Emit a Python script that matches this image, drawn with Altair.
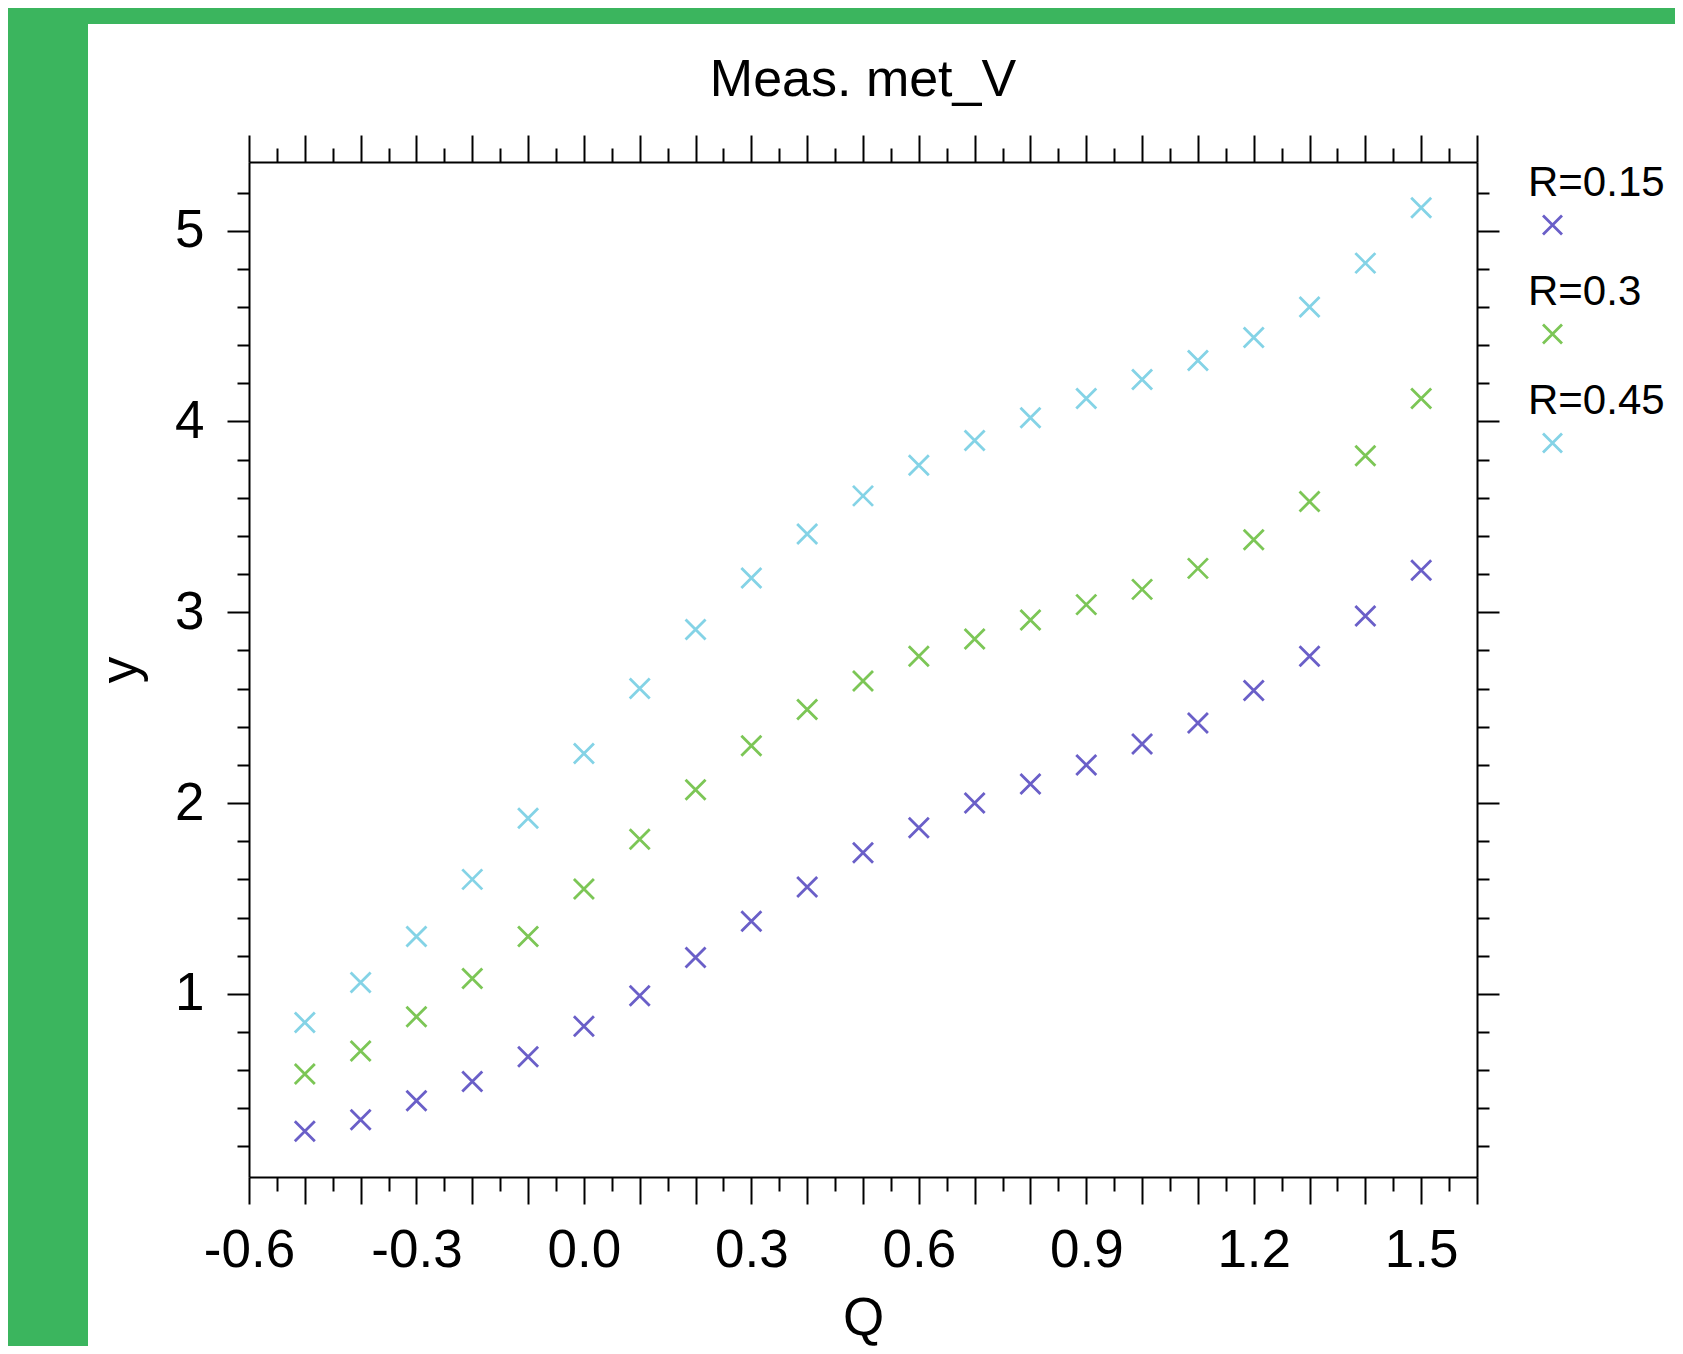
import altair as alt
import pandas as pd

FONT = "Liberation Sans"

# ---- data ----
q_values = [-0.5, -0.4, -0.3, -0.2, -0.1, 0.0, 0.1, 0.2, 0.3, 0.4, 0.5,
            0.6, 0.7, 0.8, 0.9, 1.0, 1.1, 1.2, 1.3, 1.4, 1.5]
r_015 = [0.28, 0.34, 0.44, 0.54, 0.67, 0.83, 0.99, 1.19, 1.38, 1.56, 1.74,
         1.87, 2.00, 2.10, 2.20, 2.31, 2.42, 2.59, 2.77, 2.98, 3.22]
r_030 = [0.58, 0.70, 0.88, 1.08, 1.30, 1.55, 1.81, 2.07, 2.30, 2.49, 2.64,
         2.77, 2.86, 2.96, 3.04, 3.12, 3.23, 3.38, 3.58, 3.82, 4.12]
r_045 = [0.85, 1.06, 1.30, 1.60, 1.92, 2.26, 2.60, 2.91, 3.18, 3.41, 3.61,
         3.77, 3.90, 4.02, 4.12, 4.22, 4.32, 4.44, 4.60, 4.83, 5.12]
series_names = ["R=0.15", "R=0.3", "R=0.45"]
series_colors = ["#6a5fc8", "#7cc656", "#84d3e6"]

# tick positions
x_ticks = [round(-0.6 + 0.05 * i, 2) for i in range(45)]
y_ticks = [round(0.2 * i, 1) for i in range(1, 27)]

rows = []
for name, vals in zip(series_names, [r_015, r_030, r_045]):
    for q, v in zip(q_values, vals):
        rows.append({"Q": q, "y": v, "series": name})
df = pd.DataFrame(rows)

W, H = 1228, 1015
X_PATH = "M-1,-1L1,1M-1,1L1,-1"
LEG_PATH = "M3.6,3.25L5.5,5.15M3.6,5.15L5.5,3.25"

x_major = "abs(round(datum.value*20)) % 2 == 0"
y_major = "abs(datum.value - round(datum.value)) < 0.001"

xscale = alt.Scale(domain=[-0.6, 1.6], nice=False, zero=False)
yscale = alt.Scale(domain=[0.04, 5.36], nice=False, zero=False)

common_axis = dict(domainColor="black", domainWidth=2, tickColor="black",
                   tickWidth=2, grid=False, zindex=1, labelColor="black")

x_bottom = alt.Axis(
    orient="bottom", values=x_ticks,
    tickSize={"condition": {"test": x_major, "value": 27}, "value": 14},
    labelExpr="(" + x_major + ") && abs(round(datum.value*10)) % 3 == 0 ? "
              "(datum.value < -0.001 ? '-' : '') + format(abs(datum.value), '.1f') : ''",
    labelFont=FONT, labelFontSize=53, labelPadding=62, labelBaseline="alphabetic",
    labelFlush=False, labelOverlap=False,
    title="Q", titleFont=FONT, titleFontSize=53, titleFontWeight="normal",
    titleColor="black", titleY=157, titleBaseline="alphabetic",
    **common_axis)

y_left = alt.Axis(
    orient="left", values=y_ticks,
    tickSize={"condition": {"test": y_major, "value": 22}, "value": 12},
    labelExpr="(" + y_major + ") ? format(datum.value, 'd') : ''",
    labelFont=FONT, labelFontSize=53, labelPadding=23,
    labelOverlap=False, labelFlush=False,
    title="y", titleFont=FONT, titleFontSize=53, titleFontWeight="normal",
    titleColor="black", titleX=-113, titleBaseline="alphabetic", titleAngle=270,
    **common_axis)

x_top = alt.Axis(
    orient="top", values=x_ticks, labels=False, title="",
    tickSize={"condition": {"test": x_major, "value": 27}, "value": 14},
    **common_axis)

y_right = alt.Axis(
    orient="right", values=y_ticks, labels=False, title="",
    tickSize={"condition": {"test": y_major, "value": 22}, "value": 12},
    **common_axis)

background = alt.Chart(alt.Data(values=[{"a": 1}])).mark_rect(
    color="white", opacity=1
).encode(
    x=alt.value(-161), x2=alt.value(1500),
    y=alt.value(-138), y2=alt.value(1300),
)

points = alt.Chart(df).mark_point(
    shape=X_PATH, size=400, filled=False, strokeWidth=2.8, opacity=1
).encode(
    x=alt.X("Q:Q", scale=xscale, axis=x_bottom),
    y=alt.Y("y:Q", scale=yscale, axis=y_left),
    color=alt.Color(
        "series:N",
        scale=alt.Scale(domain=series_names, range=series_colors),
        title=None,
        legend=alt.Legend(
            orient="none", legendX=1237, legendY=0,
            symbolType=LEG_PATH, symbolSize=400, symbolStrokeWidth=2.8,
            labelFont=FONT, labelFontSize=42, labelColor="black",
            labelOffset=0, rowPadding=30, padding=0, symbolOffset=0,
            zindex=1,
        ),
    ),
)

frame = alt.Chart(df).mark_point(opacity=0).encode(
    x=alt.X("Q:Q", scale=xscale, axis=x_top),
    y=alt.Y("y:Q", scale=yscale, axis=y_right),
)

chart = alt.layer(background, points, frame).resolve_axis(
    x="independent", y="independent"
).properties(
    width=W, height=H,
    autosize=alt.AutoSizeParams(type="none"),
    padding={"left": 241, "top": 154, "right": 198, "bottom": 169},
    background="#3bb55e",
    title=alt.TitleParams(
        "Meas. met_V", font=FONT, fontSize=52, fontWeight="normal",
        color="black", frame="group", offset=0, dy=124, baseline="alphabetic",
        anchor="middle",
    ),
).configure_view(stroke="transparent")

chart.save("out.html", embed_options={"renderer": "svg", "actions": False})
